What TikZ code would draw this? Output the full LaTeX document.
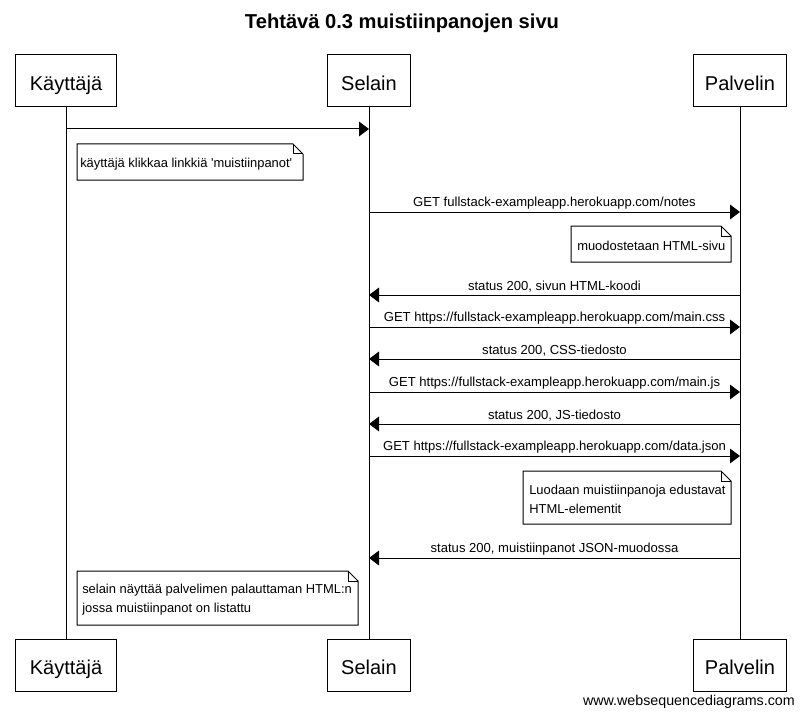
\documentclass[tikz,border=0pt]{standalone}
\usepackage{fontspec}
\setmainfont{Liberation Sans}
\usetikzlibrary{arrows.meta}
\begin{document}
\begin{tikzpicture}[x=0.75pt,y=-0.75pt,
  actor/.style={draw,line width=0.75pt,minimum width=#1,minimum height=39pt,inner sep=0pt,text height=14pt,text depth=0pt,font=\fontsize{15}{17}\selectfont},
  life/.style={line width=0.75pt},
  msg/.style={line width=0.75pt,-{Triangle[length=7.5pt,width=11pt]}},
  lbl/.style={font=\fontsize{9.8}{11}\selectfont,above,inner sep=1.5pt},
  notetext/.style={font=\fontsize{9.7}{14.2}\selectfont,align=left,anchor=west,inner sep=0pt},
  notebox/.style={draw,fill=white,line width=0.75pt}]
\useasboundingbox (0,0) rectangle (804,717);
\node[font=\bfseries\fontsize{15.1}{17}\selectfont] (title) at (402,23) {Tehtävä 0.3 muistiinpanojen sivu};
% actors
\node[actor=76pt] (k1) at (66,81) {Käyttäjä};
\node[actor=62pt] (s1) at (369,81) {Selain};
\node[actor=70pt] (p1) at (740,81) {Palvelin};
\node[actor=76pt] (k2) at (66,665.5) {Käyttäjä};
\node[actor=62pt] (s2) at (369,665.5) {Selain};
\node[actor=70pt] (p2) at (740,665.5) {Palvelin};
\draw[life] (k1) -- (k2);
\draw[life] (s1) -- (s2);
\draw[life] (p1) -- (p2);
% messages
\newcommand{\msgLR}[3]{\coordinate (a#3) at (369,#1); \coordinate (b#3) at (740,#1);
  \draw[msg] (a#3) -- node[lbl] {#2} (b#3);}
\newcommand{\msgRL}[3]{\coordinate (a#3) at (740,#1); \coordinate (b#3) at (369,#1);
  \draw[msg] (a#3) -- node[lbl] {#2} (b#3);}
\coordinate (m0a) at (66,129); \coordinate (m0b) at (369,129);
\draw[msg] (m0a) -- (m0b);
\msgLR{212}{GET fullstack-exampleapp.herokuapp.com/notes}{1}
\msgRL{295}{status 200, sivun HTML-koodi}{2}
\msgLR{327}{GET https://fullstack-exampleapp.herokuapp.com/main.css}{3}
\msgRL{359}{status 200, CSS-tiedosto}{4}
\msgLR{392}{GET https://fullstack-exampleapp.herokuapp.com/main.js}{5}
\msgRL{424}{status 200, JS-tiedosto}{6}
\msgLR{456}{GET https://fullstack-exampleapp.herokuapp.com/data.json}{7}
\msgRL{558}{status 200, muistiinpanot JSON-muodossa}{8}
% notes
\newcommand{\mynote}[7]{% x1 y1 x2 y2 name text padding
  \draw[notebox] (#1,#2) -- (#3-10,#2) -- (#3,#2+10) -- (#3,#4) -- (#1,#4) -- cycle;
  \draw[line width=0.75pt] (#3-10,#2) -- (#3-10,#2+10) -- (#3,#2+10);
  \node[notetext] (#5) at (#1+#7,{(#2+#4)/2+2}) {#6};}
\mynote{77}{144}{303}{180}{n1}{käyttäjä klikkaa linkkiä \textquotesingle muistiinpanot\textquotesingle}{3}
\mynote{571}{226}{731}{262}{n2}{muodostetaan HTML-sivu}{6}
\mynote{523}{471}{731}{524}{n3}{Luodaan muistiinpanoja edustavat\\HTML-elementit}{6}
\mynote{77}{571}{358}{625}{n4}{selain näyttää palvelimen palauttaman HTML:n\\jossa muistiinpanot on listattu}{5}
\node[font=\fontsize{10.7}{12}\selectfont,anchor=east,inner sep=0pt] (foot) at (795,702) {www.websequencediagrams.com};
\end{tikzpicture}
\end{document}
